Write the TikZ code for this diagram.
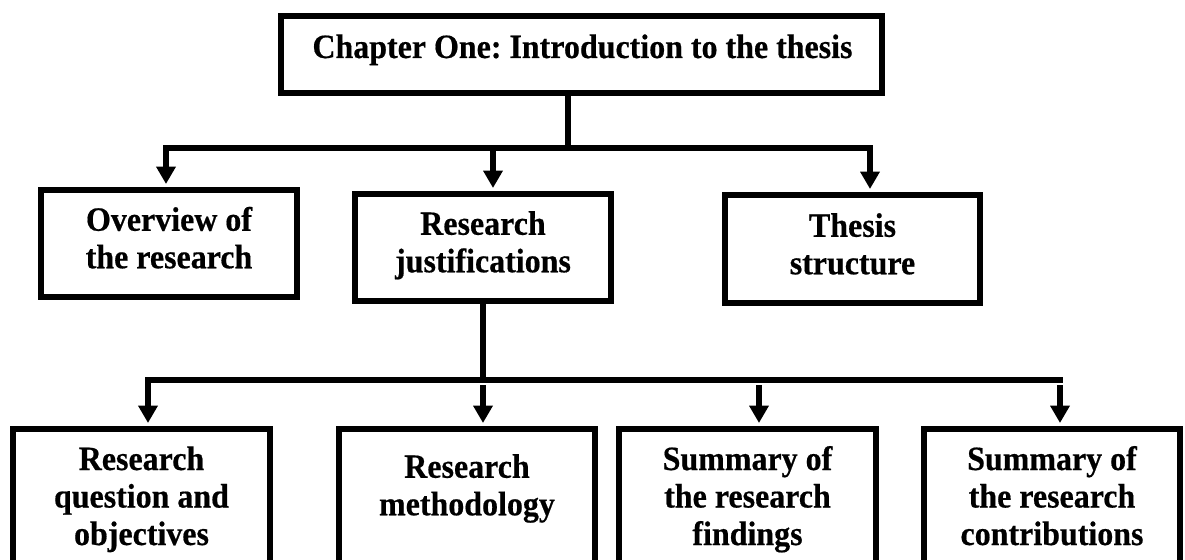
\documentclass[tikz,border=0pt]{standalone}
\usepackage{fontspec}
\setmainfont{Liberation Serif}[FakeStretch=0.94, FakeBold=0.5]
\usetikzlibrary{arrows.meta}
\frenchspacing
\begin{document}
\begin{tikzpicture}[x=0.75pt, y=-0.75pt,
  box/.style={draw, line width=4.5pt, rectangle, inner sep=0pt},
  wh/.style 2 args={minimum width=#1*0.75pt, minimum height=#2*0.75pt},
  txt/.style={align=center, inner sep=0pt, font=\fontsize{25.5pt}{28.125pt}\selectfont\bfseries},
  link/.style={line width=4.5pt},
  arr/.style={line width=4.5pt, -{Triangle[width=14pt,length=13pt]}, shorten >=2.25pt},
]
\useasboundingbox (0,0) rectangle (1185,560);
\clip (0,0) rectangle (1185,560);

% boxes
\node[box, wh={601}{77}]  (top) at (581.5,54.5) {};
\node[box, wh={256}{107}] (ov)  at (169,243.5) {};
\node[box, wh={256}{107}] (jus) at (483,247.5) {};
\node[box, wh={255}{108}] (th)  at (852.5,249) {};
\node[box, wh={257}{171}] (q)   at (141.5,514.5) {};
\node[box, wh={256}{171}] (m)   at (467,514.5) {};
\node[box, wh={257}{171}] (f)   at (747.5,514.5) {};
\node[box, wh={256}{171}] (c)   at (1052,514.5) {};

% texts
\node[txt] (ttop) at (582.5,50.5) {\strut Chapter One: Introduction to the thesis};
\node[txt] (tov)  at (169,242)   {\strut Overview of\\\strut the research};
\node[txt] (tjus) at (483,246)   {\strut Research\\\strut justifications};
\node[txt] (tth)  at (852.5,248) {\strut Thesis\\\strut structure};
\node[txt] (tq)   at (141.5,500) {\strut Research\\\strut question and\\\strut objectives};
\node[txt] (tm)   at (467,489)   {\strut Research\\\strut methodology};
\node[txt] (tf)   at (747.5,500) {\strut Summary of\\\strut the research\\\strut findings};
\node[txt] (tc)   at (1052,500)  {\strut Summary of\\\strut the research\\\strut contributions};

% upper connectors
\coordinate (a0) at (568,148);
\coordinate (aL) at (166,148);
\coordinate (aM) at (493,148);
\coordinate (aR) at (870,148);
\draw[link] (top.south -| a0) -- (a0);
\draw[link, line cap=rect] (aL) -- (aR);
\draw[arr] (aL) -- (ov.north -| aL);
\draw[arr] (aM) -- (jus.north -| aM);
\draw[arr] (aR) -- (th.north -| aR);

% lower connectors
\coordinate (b0) at (483,380);
\coordinate (bL) at (148,380);
\coordinate (bF) at (759,380);
\coordinate (bR) at (1060,380);
\draw[link] (jus.south -| b0) -- (b0);
\draw[link, line cap=rect] (bL) -- (bR);
\draw[arr] (bL) -- (q.north -| bL);
\draw[arr, shorten <=3.75pt] (b0) -- (m.north -| b0);
\draw[arr, shorten <=3.75pt] (bF) -- (f.north -| bF);
\draw[arr, shorten <=3.75pt] (bR) -- (c.north -| bR);
\end{tikzpicture}
\end{document}
